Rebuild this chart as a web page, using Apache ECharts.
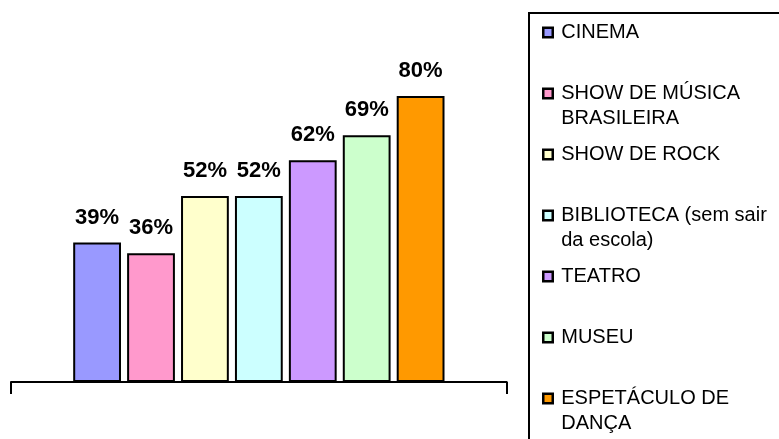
<!DOCTYPE html>
<html>
<head>
<meta charset="utf-8">
<script src="https://cdn.jsdelivr.net/npm/echarts@6/dist/echarts.min.js"></script>
<style>
html,body{margin:0;padding:0;background:#fff;}
#chart{width:779px;height:439px;}
</style>
</head>
<body>
<div id="chart"></div>
<script>
// ---- data ----
var seriesNames = ['CINEMA', 'SHOW DE MÚSICA BRASILEIRA', 'SHOW DE ROCK', 'BIBLIOTECA (sem sair da escola)', 'TEATRO', 'MUSEU', 'ESPETÁCULO DE DANÇA'];
var legendLabels = ['CINEMA', 'SHOW DE MÚSICA\nBRASILEIRA', 'SHOW DE ROCK', 'BIBLIOTECA (sem sair\nda escola)', 'TEATRO', 'MUSEU', 'ESPETÁCULO DE\nDANÇA'];
var values = [39, 36, 52, 52, 62, 69, 80];
var colors = ['#9999FF', '#FF99CC', '#FFFFCC', '#CCFFFF', '#CC99FF', '#CCFFCC', '#FF9900'];
var categories = [''];

var FONT = "'Liberation Sans', Arial, sans-serif";

var series = seriesNames.map(function (name, i) {
  return {
    name: name,
    type: 'bar',
    data: [values[i]],
    barWidth: 47.8,
    barGap: '12.8%',
    itemStyle: { color: colors[i], borderColor: '#000', borderWidth: 2 },
    label: {
      show: true,
      position: 'top',
      distance: 14,
      formatter: '{c}%',
      color: '#000',
      fontSize: 22,
      fontWeight: 'bold',
      fontFamily: FONT
    }
  };
});

var chart = echarts.init(document.getElementById('chart'), null, { renderer: 'canvas' });
chart.setOption({
  animation: false,
  backgroundColor: '#fff',
  grid: { left: 11, right: 272.3, top: 24.5, bottom: 57, containLabel: false },
  xAxis: {
    type: 'category',
    data: categories,
    boundaryGap: true,
    axisLine: { show: true, lineStyle: { color: '#000', width: 2 } },
    axisTick: { show: true, length: 12, alignWithLabel: false, lineStyle: { color: '#000', width: 2 } },
    axisLabel: { show: false },
    splitLine: { show: false }
  },
  yAxis: {
    type: 'value',
    min: 0,
    max: 100,
    show: false
  },
  legend: {
    orient: 'vertical',
    left: 529,
    top: 13,
    height: 480,
    padding: [6, 60, 60, 13],
    borderColor: '#000',
    borderWidth: 2,
    itemGap: 8.5,
    itemWidth: 13,
    itemHeight: 50,
    icon: 'path://M0,7.5 L9.5,7.5 L9.5,17 L0,17 Z M0,0 L0,0 M13,50 L13,50',
    itemStyle: { borderColor: '#000', borderWidth: 2.5 },
    data: seriesNames,
    formatter: function (name) {
      var lbl = legendLabels[seriesNames.indexOf(name)];
      return lbl.indexOf('\n') >= 0 ? lbl : lbl + '\n ';
    },
    textStyle: { color: '#000', fontSize: 20, lineHeight: 25, fontFamily: FONT }
  },
  series: series
});
</script>
</body>
</html>
